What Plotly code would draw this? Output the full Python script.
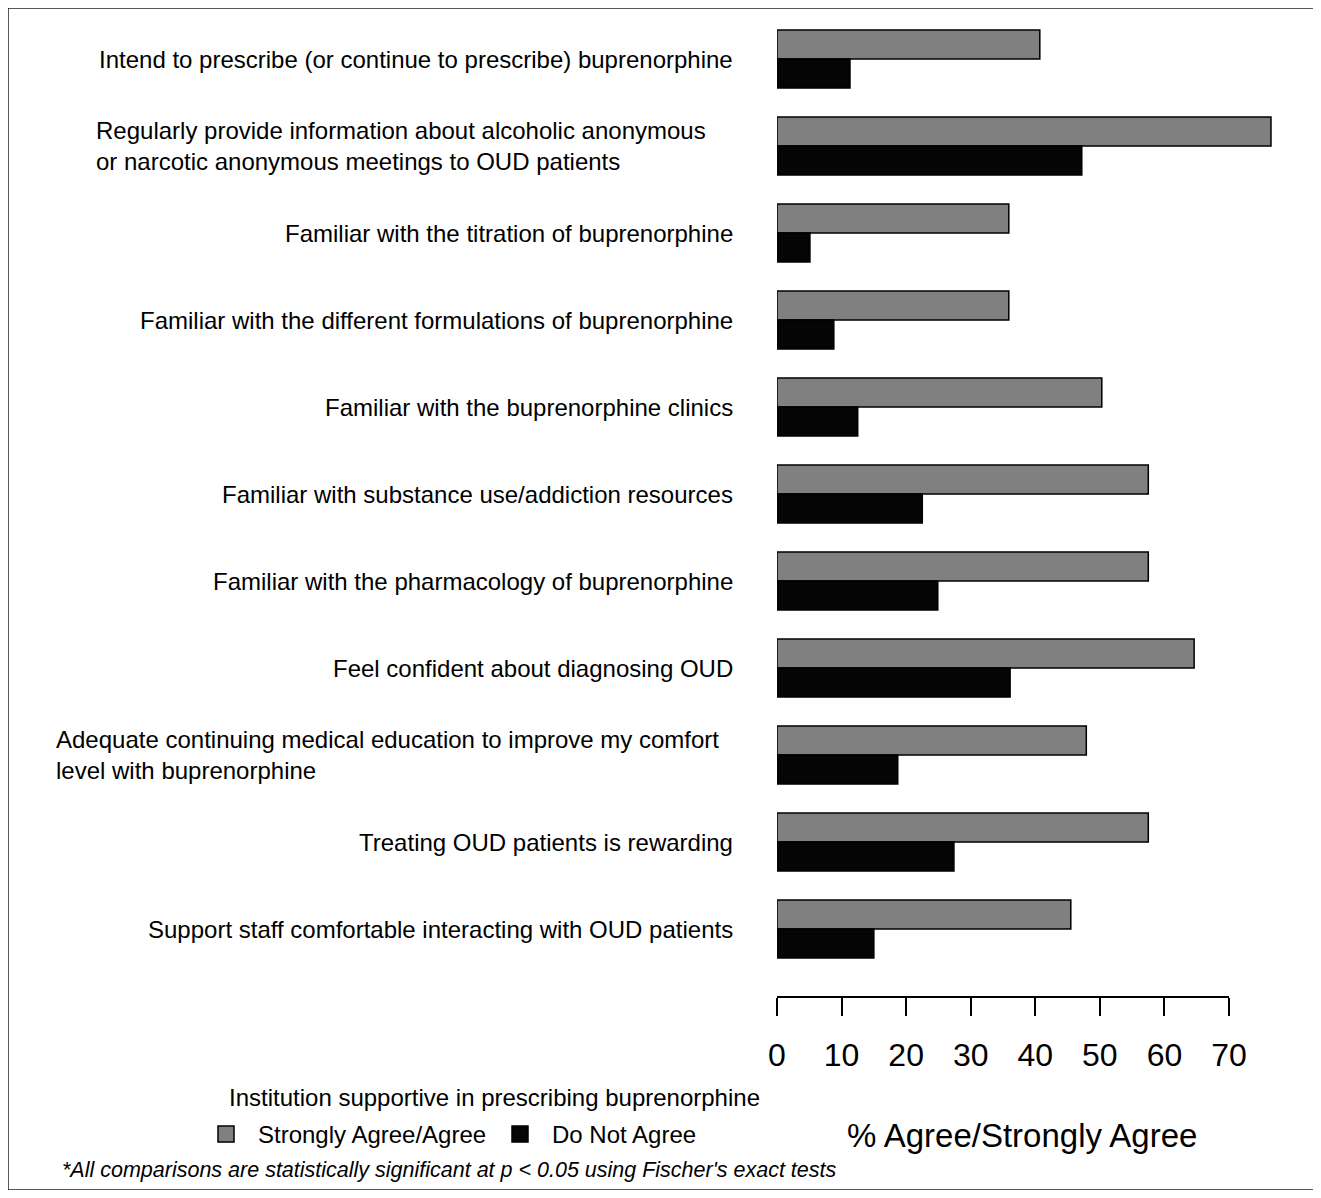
import plotly.graph_objects as go

categories = [
    "Intend to prescribe (or continue to prescribe) buprenorphine",
    "Regularly provide information about alcoholic anonymous<br>or narcotic anonymous meetings to OUD patients",
    "Familiar with the titration of buprenorphine",
    "Familiar with the different formulations of buprenorphine",
    "Familiar with the buprenorphine clinics",
    "Familiar with substance use/addiction resources",
    "Familiar with the pharmacology of buprenorphine",
    "Feel confident about diagnosing OUD",
    "Adequate continuing medical education to improve my comfort<br>level with buprenorphine",
    "Treating OUD patients is rewarding",
    "Support staff comfortable interacting with OUD patients",
]
agree = [40.7, 76.5, 35.9, 35.9, 50.3, 57.5, 57.5, 64.6, 47.9, 57.5, 45.5]
not_agree = [11.3, 47.2, 5.1, 8.8, 12.5, 22.5, 24.9, 36.1, 18.7, 27.4, 15.0]
tick_values = [0, 10, 20, 30, 40, 50, 60, 70]
series_names = ["Strongly Agree/Agree", "Do Not Agree"]
legend_title = "Institution supportive in prescribing buprenorphine"
x_title = "% Agree/Strongly Agree"
footnote = "*All comparisons are statistically significant at p < 0.05 using Fischer's exact tests"

OFF = 8  # page body margin
W, H = 1321 - 2 * OFF, 1198 - 2 * OFF
# target page-pixel geometry
X0, X70 = 777, 1229
PLOT_TOP, PLOT_BOTTOM = 12, 997
PXU = (X70 - X0) / 70.0
L = X0 - OFF
T = PLOT_TOP - OFF
B = H - (PLOT_BOTTOM - OFF)
R = 30
plot_w = W - L - R
plot_h = H - T - B
xmax = plot_w / PXU

def px_x(px):
    return (px - OFF - L) / plot_w

def px_y(py):
    return (H - B - (py - OFF)) / plot_h

FONT = "Liberation Sans, Arial, sans-serif"
GRAY = "#808080"
BLACK = "#050505"

idx = list(range(len(categories)))

fig = go.Figure()
fig.add_trace(go.Bar(y=idx, x=agree, orientation="h", name=series_names[0],
                     marker=dict(color=GRAY, line=dict(color="black", width=1.5)),
                     showlegend=False))
fig.add_trace(go.Bar(y=idx, x=not_agree, orientation="h", name=series_names[1],
                     marker=dict(color=BLACK, line=dict(color="black", width=1.5)),
                     showlegend=False))
for name, col in zip(series_names, [GRAY, BLACK]):
    fig.add_trace(go.Scatter(x=[None], y=[None], mode="markers", name=name,
                             marker=dict(symbol="square", size=17, color=col,
                                         line=dict(color="black", width=1.5))))

label_shift = {1: -27, 8: -14}
for i, cat in enumerate(categories):
    fig.add_annotation(x=0, y=i, xref="x", yref="y", text=cat, showarrow=False,
                       xanchor="right", yanchor="middle", align="left",
                       xshift=-42 + label_shift.get(i, 0),
                       font=dict(family=FONT, size=24, color="black"))

# legend title
fig.add_annotation(x=px_x(494), y=px_y(1097), xref="paper", yref="paper",
                   text=legend_title, showarrow=False, xanchor="center", yanchor="middle",
                   font=dict(family=FONT, size=24, color="black"))
# axis title
fig.add_annotation(x=px_x(1022), y=px_y(1135), xref="paper", yref="paper",
                   text=x_title, showarrow=False, xanchor="center", yanchor="middle",
                   font=dict(family=FONT, size=33, color="black"))
# footnote
fig.add_annotation(x=px_x(60), y=px_y(1170), xref="paper", yref="paper",
                   text="<i>" + footnote + "</i>", showarrow=False,
                   xanchor="left", yanchor="middle",
                   font=dict(family=FONT, size=21.5, color="black"))

# axis line from 0 to 70
fig.add_shape(type="line", xref="x", yref="paper", x0=tick_values[0], x1=tick_values[-1],
              y0=0, y1=0, line=dict(color="black", width=2))
# outer border
fig.add_shape(type="rect", xref="paper", yref="paper",
              x0=px_x(8), x1=px_x(1316), y0=px_y(1190), y1=px_y(8),
              line=dict(color="#222222", width=1.5))

cat_spacing = 87.0
first_center = 59
fig.update_layout(
    width=W, height=H,
    margin=dict(l=L, r=R, t=T, b=B),
    paper_bgcolor="white", plot_bgcolor="white",
    barmode="group", bargap=0.333, bargroupgap=0,
    font=dict(family=FONT, color="black"),
    xaxis=dict(range=[0, xmax], tickvals=tick_values, ticks="outside", ticklen=18,
               tickwidth=2, tickcolor="black", showgrid=False, zeroline=False,
               showline=False, tickfont=dict(family=FONT, size=32, color="black"),
               ticklabelstandoff=12),
    yaxis=dict(range=[(PLOT_BOTTOM - first_center) / cat_spacing,
                      -(first_center - PLOT_TOP) / cat_spacing],
               showticklabels=False, showgrid=False, zeroline=False,
               showline=False, ticks=""),
    legend=dict(orientation="h", x=px_x(194), y=px_y(1112), xanchor="left", yanchor="top",
                font=dict(family=FONT, size=24, color="black"),
                itemwidth=54, entrywidth=225, entrywidthmode="pixels",
                itemsizing="trace", bgcolor="rgba(0,0,0,0)", tracegroupgap=0),
)

fig.write_html("out.html")
